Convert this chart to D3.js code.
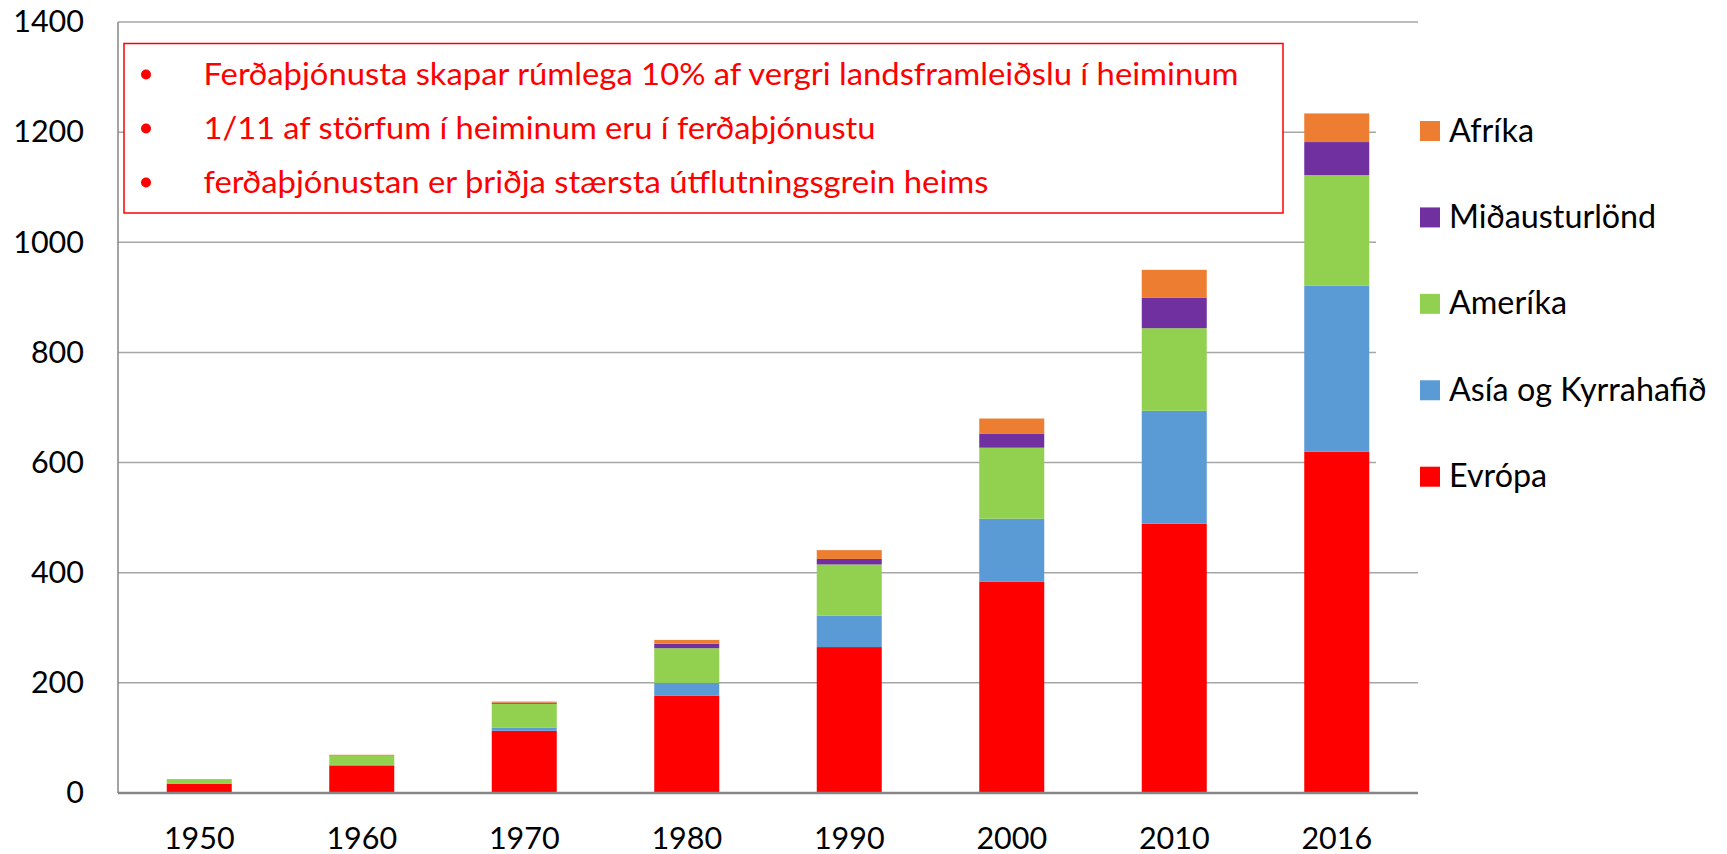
<!DOCTYPE html>
<html>
<head>
<meta charset="utf-8">
<script src="https://cdn.jsdelivr.net/npm/d3@7"></script>
<style>
  html, body { margin: 0; padding: 0; background: #ffffff; }
  svg { display: block; }
  text { font-family: Lato, "Open Sans", sans-serif; }
</style>
</head>
<body>
<svg id="chart" width="1727" height="854"></svg>
<script>
// ---- Data ----
const categories = ["1950", "1960", "1970", "1980", "1990", "2000", "2010", "2016"];
const seriesNames = ["Evrópa", "Asía og Kyrrahafið", "Ameríka", "Miðausturlönd", "Afríka"];
const evropa      = [17, 50, 113, 177, 265, 384, 489, 620];
const asia        = [0.2, 1, 6, 23, 57, 114, 205, 301];
const amerika     = [7.5, 17, 43, 63, 93, 129, 150, 201];
const midausturl  = [0.2, 0.6, 2, 8, 10, 25, 55, 60];
const afrika      = [0.5, 0.8, 2, 7, 16, 28, 51, 52];
const seriesColors = ["#FF0000", "#5B9BD5", "#92D050", "#7030A0", "#ED7D31"];
const yTicks = [0, 200, 400, 600, 800, 1000, 1200, 1400];
const calloutLines = [
  "Ferðaþjónusta skapar rúmlega 10% af vergri landsframleiðslu í heiminum",
  "1/11 af störfum í heiminum eru í ferðaþjónustu",
  "ferðaþjónustan er þriðja stærsta útflutningsgrein heims"
];

const seriesValues = [evropa, asia, amerika, midausturl, afrika];
const table = categories.map((c, i) => {
  const row = { year: c };
  seriesNames.forEach((s, k) => { row[s] = seriesValues[k][i]; });
  return row;
});

// ---- Layout ----
const svg = d3.select("#chart");
const plot = { left: 118, right: 1418, top: 22, bottom: 793 };

const x = d3.scaleBand()
  .domain(categories)
  .range([plot.left, plot.right])
  .paddingInner(0.6)
  .paddingOuter(0.3);

const y = d3.scaleLinear()
  .domain([0, 1400])
  .range([plot.bottom, plot.top]);

const color = d3.scaleOrdinal().domain(seriesNames).range(seriesColors);

// gridlines
svg.append("g")
  .selectAll("line")
  .data(yTicks.filter(t => t > 0))
  .join("line")
  .attr("x1", plot.left).attr("x2", plot.right)
  .attr("y1", d => y(d)).attr("y2", d => y(d))
  .attr("stroke", "#a6a6a6")
  .attr("stroke-width", 1.5);

// y tick labels
const yAxis = d3.axisLeft(y).tickValues(yTicks).tickFormat(d3.format("d")).tickSize(0).tickPadding(34);
const gy = svg.append("g").attr("transform", `translate(${plot.left},0)`).call(yAxis);
gy.select(".domain").remove();
gy.selectAll("text")
  .attr("font-family", "Lato, 'Open Sans', sans-serif")
  .attr("font-size", 30.5)
  .attr("fill", "#000");

// stacked bars
const stack = d3.stack().keys(seriesNames);
const stacked = stack(table);
svg.append("g")
  .selectAll("g")
  .data(stacked)
  .join("g")
  .attr("fill", d => color(d.key))
  .selectAll("rect")
  .data(d => d)
  .join("rect")
  .attr("x", d => x(d.data.year))
  .attr("width", x.bandwidth())
  .attr("y", d => y(d[1]))
  .attr("height", d => y(d[0]) - y(d[1]));

// axis lines
svg.append("line")
  .attr("x1", plot.left).attr("x2", plot.left)
  .attr("y1", plot.top).attr("y2", plot.bottom)
  .attr("stroke", "#868686").attr("stroke-width", 1.5);

const xAxis = d3.axisBottom(x).tickSize(0).tickPadding(0);
const gx = svg.append("g").attr("transform", `translate(0,${plot.bottom})`).call(xAxis);
gx.select(".domain")
  .attr("stroke", "#868686").attr("stroke-width", 2.5)
  .attr("d", `M${plot.left},0H${plot.right}`);
gx.selectAll("text")
  .attr("font-family", "Lato, 'Open Sans', sans-serif")
  .attr("font-size", 30.5)
  .attr("fill", "#000")
  .attr("dy", null)
  .attr("y", 56);

// legend (white box covering gridlines)
const legend = svg.append("g");
legend.append("rect")
  .attr("x", 1376).attr("y", 60).attr("width", 351).attr("height", 460)
  .attr("fill", "#fff");
const legendOrder = seriesNames.slice().reverse();
const legendY = d3.scalePoint().domain(legendOrder).range([131, 476.7]);
const li = legend.selectAll("g.item")
  .data(legendOrder)
  .join("g").attr("class", "item")
  .attr("transform", d => `translate(1420,${legendY(d)})`);
li.append("rect")
  .attr("x", 0).attr("y", -10).attr("width", 20).attr("height", 20)
  .attr("fill", d => color(d));
li.append("text")
  .attr("x", 29).attr("y", 10.5)
  .attr("font-size", 32.3)
  .attr("fill", "#000")
  .text(d => d);

// callout box
const callout = svg.append("g");
callout.append("rect")
  .attr("x", 124).attr("y", 43.5).attr("width", 1159).attr("height", 169.5)
  .attr("fill", "#fff")
  .attr("stroke", "#FF0000").attr("stroke-width", 1.5);
const lineTargets = [1035, 672, 785];
const lineBase = d3.scalePoint().domain(d3.range(calloutLines.length)).range([85, 193]);
callout.selectAll("circle")
  .data(calloutLines)
  .join("circle")
  .attr("cx", 146)
  .attr("cy", (d, i) => lineBase(i) - 10.5)
  .attr("r", 5)
  .attr("fill", "#FF0000");
callout.selectAll("text")
  .data(calloutLines)
  .join("text")
  .attr("x", 203.5)
  .attr("y", (d, i) => lineBase(i))
  .attr("font-size", 30)
  .attr("fill", "#FF0000")
  .attr("textLength", (d, i) => lineTargets[i])
  .attr("lengthAdjust", "spacingAndGlyphs")
  .text(d => d);
</script>
</body>
</html>
